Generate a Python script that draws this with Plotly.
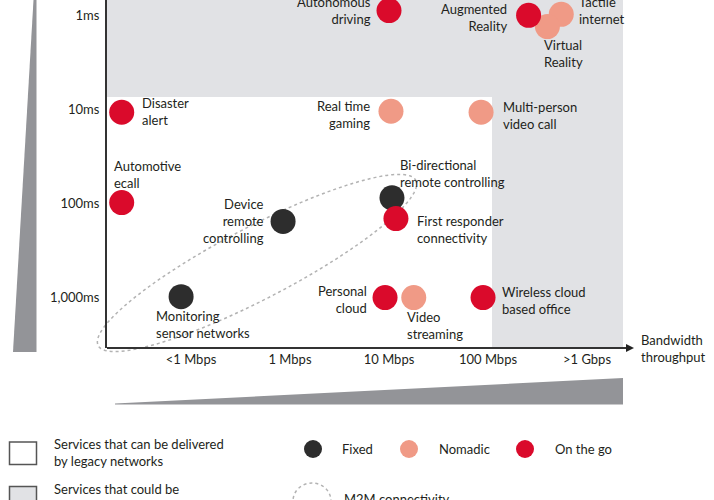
import numpy as np
import plotly.graph_objects as go

W, H = 714, 500

# ---------------- data ----------------
bandwidth_labels = ["<1 Mbps", "1 Mbps", "10 Mbps", "100 Mbps", ">1 Gbps"]
bandwidth_ticks = [0, 1, 2, 3, 4]
latency_labels = ["1ms", "10ms", "100ms", "1,000ms"]
latency_ticks = [0, 1, 2, 3]

services = [
    "Autonomous<br>driving", "Augmented<br>Reality", "Tactile<br>internet", "Virtual<br>Reality",
    "Disaster<br>alert", "Real time<br>gaming", "Multi-person<br>video call",
    "Automotive<br>ecall", "Device<br>remote<br>controlling", "Bi-directional<br>remote controlling",
    "First responder<br>connectivity", "Monitoring<br>sensor networks", "Personal<br>cloud",
    "Video<br>streaming", "Wireless cloud<br>based office",
]
bandwidth_pos = [2.00, 3.41, 3.74, 3.60, -0.70, 2.02, 2.93, -0.70, 0.93, 2.03, 2.07, -0.10, 1.96, 2.25, 2.95]
latency_pos = [-0.05, 0.00, -0.01, 0.12, 1.03, 1.02, 1.03, 1.99, 2.19, 1.94, 2.16, 2.99, 3.00, 3.00, 3.00]
mobility = ["On the go", "On the go", "Nomadic", "Nomadic", "On the go", "Nomadic", "Nomadic",
            "On the go", "Fixed", "Fixed", "On the go", "Fixed", "On the go", "Nomadic", "On the go"]

legend_classes = ["Fixed", "Nomadic", "On the go"]

# ---------------- styles ----------------
colors = {"Fixed": "#2d2d2d", "Nomadic": "#f09a86", "On the go": "#da0a2b"}
TXT = "#231f20"
GRAY_BG = "#e1e2e5"
WEDGE = "#939498"
FONT = "Lato"
FS = 13
DASH = "3px,3px"

# label placement (anchor, dx px, dy px down) per service
label_place = [
    ("right", -16, 0), ("right", -20, 2), ("left", 16, -4), ("left", -5, 27),
    ("left", 18, -1), ("right", -19, 3), ("left", 20, 3),
    ("left", -10, -28), ("right", -17, 0), ("left", 6, -24),
    ("left", 19, 11), ("left", -27, 28), ("right", -16, 2),
    ("left", -9, 28), ("left", 17, 3),
]

# pixel geometry of the plotting area
X0_PX, X_STEP = 191.0, 99.0
Y0_PX, Y_STEP = 15.3, 94.1
L_PX, R_PX, T_PX, B_PX = 107, 623, 0, 348


def xd(px):
    return (px - X0_PX) / X_STEP


def yd(py):
    return (py - Y0_PX) / Y_STEP


def pxp(x):
    return x / W


def pyp(y):
    return 1 - y / H


fig = go.Figure()

for cls in ["Fixed", "Nomadic", "On the go"]:
    idx = [i for i, m in enumerate(mobility) if m == cls]
    fig.add_trace(go.Scatter(
        x=[bandwidth_pos[i] for i in idx],
        y=[latency_pos[i] for i in idx],
        mode="markers",
        marker=dict(size=25, color=colors[cls], line=dict(width=0)),
        name=cls, showlegend=False, hoverinfo="skip", cliponaxis=False,
    ))

annotations = []
for i, s in enumerate(services):
    anchor, dx, dy = label_place[i]
    annotations.append(dict(
        x=bandwidth_pos[i], y=latency_pos[i], xref="x", yref="y",
        text=s, showarrow=False, xanchor=anchor, yanchor="middle", align=anchor,
        xshift=dx, yshift=-dy, font=dict(family=FONT, size=FS, color=TXT),
    ))

annotations.append(dict(
    x=pxp(639), y=pyp(348.5), xref="paper", yref="paper", text="Bandwidth<br>throughput",
    showarrow=False, xanchor="left", yanchor="middle", align="left",
    font=dict(family=FONT, size=FS, color=TXT),
))

shapes = []
# shaded regions (services that could be enabled)
shapes.append(dict(type="rect", xref="paper", yref="paper", x0=pxp(L_PX), x1=pxp(R_PX),
                   y0=pyp(97), y1=pyp(T_PX), fillcolor=GRAY_BG, line=dict(width=0), layer="below"))
shapes.append(dict(type="rect", xref="paper", yref="paper", x0=pxp(492), x1=pxp(R_PX),
                   y0=pyp(B_PX), y1=pyp(T_PX), fillcolor=GRAY_BG, line=dict(width=0), layer="below"))

# M2M ellipse
cx, cy, a, b, th = 257, 263, 179, 36, np.deg2rad(27.5)
t = np.linspace(0, 2 * np.pi, 181)
ux, uy = np.cos(th), -np.sin(th)
nx, ny = np.sin(th), np.cos(th)
ex = cx + a * np.cos(t) * ux + b * np.sin(t) * nx
ey = cy + a * np.cos(t) * uy + b * np.sin(t) * ny
path = "M " + " L ".join(f"{pxp(x):.5f},{pyp(y):.5f}" for x, y in zip(ex, ey)) + " Z"
shapes.append(dict(type="path", xref="paper", yref="paper", path=path,
                   line=dict(color="#b3b3b3", width=1.5, dash=DASH), layer="below"))

# x axis line with arrow
shapes.append(dict(type="line", xref="paper", yref="paper", x0=pxp(L_PX), x1=pxp(628),
                   y0=pyp(B_PX), y1=pyp(B_PX), line=dict(color="#333333", width=2)))
shapes.append(dict(type="path", xref="paper", yref="paper",
                   path=f"M {pxp(626)},{pyp(344)} L {pxp(634)},{pyp(348)} L {pxp(626)},{pyp(352)} Z",
                   fillcolor="#222222", line=dict(width=0)))

# wedges
shapes.append(dict(type="path", xref="paper", yref="paper",
                   path=f"M {pxp(33.5)},{pyp(0)} L {pxp(36.5)},{pyp(0)} L {pxp(36.5)},{pyp(352)} L {pxp(13)},{pyp(352)} Z",
                   fillcolor=WEDGE, line=dict(width=0)))
shapes.append(dict(type="path", xref="paper", yref="paper",
                   path=f"M {pxp(115)},{pyp(403.5)} L {pxp(623)},{pyp(378)} L {pxp(623)},{pyp(404.5)} L {pxp(115)},{pyp(404.5)} Z",
                   fillcolor=WEDGE, line=dict(width=0)))

# legend: boxes
shapes.append(dict(type="rect", xref="paper", yref="paper", x0=pxp(9.5), x1=pxp(36.5),
                   y0=pyp(464.5), y1=pyp(442), fillcolor="white", line=dict(color="#555555", width=1.5)))
shapes.append(dict(type="rect", xref="paper", yref="paper", x0=pxp(9.5), x1=pxp(36.5),
                   y0=pyp(509), y1=pyp(486.5), fillcolor=GRAY_BG, line=dict(color="#555555", width=1.5)))
annotations.append(dict(x=pxp(52), y=pyp(452), xref="paper", yref="paper",
                        text="Services that can be delivered<br>by legacy networks", showarrow=False,
                        xanchor="left", yanchor="middle", align="left",
                        font=dict(family=FONT, size=FS, color=TXT)))
annotations.append(dict(x=pxp(52), y=pyp(497), xref="paper", yref="paper",
                        text="Services that could be<br>enabled by 5G", showarrow=False,
                        xanchor="left", yanchor="middle", align="left",
                        font=dict(family=FONT, size=FS, color=TXT)))

# legend: mobility classes
leg_dot_x = [313, 409, 525]
leg_txt_x = [340, 437, 553]
for cls, dxp, txp in zip(legend_classes, leg_dot_x, leg_txt_x):
    shapes.append(dict(type="circle", xref="paper", yref="paper", xsizemode="pixel", ysizemode="pixel",
                       xanchor=pxp(dxp), yanchor=pyp(449), x0=-9, x1=9, y0=-9, y1=9,
                       fillcolor=colors[cls], line=dict(width=0)))
    annotations.append(dict(x=pxp(txp), y=pyp(449), xref="paper", yref="paper", text=cls,
                            showarrow=False, xanchor="left", yanchor="middle",
                            font=dict(family=FONT, size=FS, color=TXT)))

# legend: M2M
shapes.append(dict(type="circle", xref="paper", yref="paper", xsizemode="pixel", ysizemode="pixel",
                   xanchor=pxp(312), yanchor=pyp(501), x0=-19, x1=19, y0=-18, y1=18,
                   line=dict(color="#b3b3b3", width=1.5, dash=DASH)))
annotations.append(dict(x=pxp(342), y=pyp(499), xref="paper", yref="paper", text="M2M connectivity",
                        showarrow=False, xanchor="left", yanchor="middle",
                        font=dict(family=FONT, size=FS, color=TXT)))

fig.update_layout(
    width=W, height=H, margin=dict(l=0, r=0, t=0, b=0),
    paper_bgcolor="white", plot_bgcolor="white",
    font=dict(family=FONT, size=FS, color=TXT),
    xaxis=dict(domain=[L_PX / W, R_PX / W], range=[xd(L_PX), xd(R_PX)],
               tickvals=bandwidth_ticks, ticktext=bandwidth_labels, showgrid=False, zeroline=False,
               showline=False, ticks="", ticklabelstandoff=2, fixedrange=True,
               tickfont=dict(family=FONT, size=FS, color=TXT)),
    yaxis=dict(domain=[1 - B_PX / H, 1], range=[yd(B_PX), yd(T_PX)],
               tickvals=latency_ticks, ticktext=latency_labels, showgrid=False, zeroline=False,
               showline=True, linecolor="#333333", linewidth=2, ticks="", ticklabelstandoff=3,
               fixedrange=True, tickfont=dict(family=FONT, size=FS, color=TXT)),
    shapes=shapes, annotations=annotations, showlegend=False,
)

fig.write_html(
    "out.html",
    config={"displayModeBar": False},
    post_script="document.body.style.margin='0';document.body.style.padding='0';"
                "document.body.style.overflow='hidden';",
)
